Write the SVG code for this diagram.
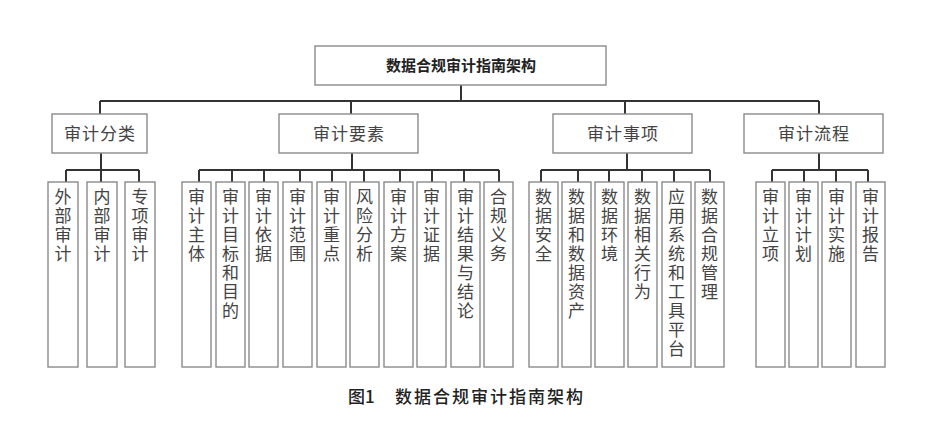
<svg xmlns="http://www.w3.org/2000/svg" width="933" height="424" viewBox="0 0 933 424">
<style>
.box{fill:#fff;stroke:#8a8a8a;stroke-width:1.4}
.conn{fill:none;stroke:#333;stroke-width:2}
.title{font-family:"Noto Sans CJK SC",sans-serif;font-size:15px;font-weight:bold;fill:#222;text-anchor:middle}
.cat{font-family:"Noto Sans CJK SC",sans-serif;font-size:17px;fill:#444;text-anchor:middle;letter-spacing:1px}
.leaf{font-family:"Noto Sans CJK SC",sans-serif;font-size:17px;fill:#444;writing-mode:vertical-rl;text-orientation:upright;letter-spacing:2px}
.cap{font-family:"Noto Sans CJK SC",sans-serif;font-size:17px;font-weight:500;fill:#222}
</style>
<rect width="933" height="424" fill="#fff"/>
<g id="connectors">
<path class="conn" d="M461 85V101M100 101H819M100 101V114M351 101V114M625 101V114M819 101V114"/>
<path class="conn" d="M101 153V170M66 170H139M66 170V182M101 170V182M139 170V182"/>
<path class="conn" d="M352 153V170M199 170H499M199 170V182M232 170V182M264 170V182M300 170V182M332 170V182M364 170V182M400 170V182M432 170V182M464 170V182M499 170V182"/>
<path class="conn" d="M627 153V170M541 170H710M541 170V182M578 170V182M609 170V182M642 170V182M674 170V182M710 170V182"/>
<path class="conn" d="M819 153V170M772 170H868M772 170V182M804 170V182M836 170V182M868 170V182"/>
</g>
<g id="root"><rect class="box" x="315" y="46" width="291" height="39"/><text class="title" x="461" y="71">数据合规审计指南架构</text></g>
<g id="cat1"><rect class="box" x="52" y="114" width="95" height="39"/><text class="cat" x="100" y="140">审计分类</text></g>
<g id="cat2"><rect class="box" x="279" y="114" width="139" height="39"/><text class="cat" x="349" y="140">审计要素</text></g>
<g id="cat3"><rect class="box" x="553" y="114" width="139" height="39"/><text class="cat" x="623" y="140">审计事项</text></g>
<g id="cat4"><rect class="box" x="744" y="114" width="139" height="39"/><text class="cat" x="814" y="140">审计流程</text></g>

<g id="l1"><rect class="box" x="48" y="182" width="30" height="185"/><text class="leaf" x="63" y="188">外部审计</text></g>
<g id="l2"><rect class="box" x="87" y="182" width="30" height="185"/><text class="leaf" x="102" y="188">内部审计</text></g>
<g id="l3"><rect class="box" x="125" y="182" width="30" height="185"/><text class="leaf" x="140" y="188">专项审计</text></g>

<g id="l4"><rect class="box" x="182" y="182" width="29" height="185"/><text class="leaf" x="196.5" y="188">审计主体</text></g>
<g id="l5"><rect class="box" x="216" y="182" width="29" height="185"/><text class="leaf" x="230.5" y="188">审计目标和目的</text></g>
<g id="l6"><rect class="box" x="249" y="182" width="29" height="185"/><text class="leaf" x="263.5" y="188">审计依据</text></g>
<g id="l7"><rect class="box" x="283" y="182" width="29" height="185"/><text class="leaf" x="297.5" y="188">审计范围</text></g>
<g id="l8"><rect class="box" x="317" y="182" width="29" height="185"/><text class="leaf" x="331.5" y="188">审计重点</text></g>
<g id="l9"><rect class="box" x="350" y="182" width="29" height="185"/><text class="leaf" x="364.5" y="188">风险分析</text></g>
<g id="l10"><rect class="box" x="384" y="182" width="29" height="185"/><text class="leaf" x="398.5" y="188">审计方案</text></g>
<g id="l11"><rect class="box" x="417" y="182" width="29" height="185"/><text class="leaf" x="431.5" y="188">审计证据</text></g>
<g id="l12"><rect class="box" x="451" y="182" width="29" height="185"/><text class="leaf" x="465.5" y="188">审计结果与结论</text></g>
<g id="l13"><rect class="box" x="484" y="182" width="29" height="185"/><text class="leaf" x="498.5" y="188">合规义务</text></g>

<g id="l14"><rect class="box" x="529" y="182" width="29" height="185"/><text class="leaf" x="543.5" y="188">数据安全</text></g>
<g id="l15"><rect class="box" x="562" y="182" width="29" height="185"/><text class="leaf" x="576.5" y="188">数据和数据资产</text></g>
<g id="l16"><rect class="box" x="595" y="182" width="29" height="185"/><text class="leaf" x="609.5" y="188">数据环境</text></g>
<g id="l17"><rect class="box" x="628" y="182" width="29" height="185"/><text class="leaf" x="642.5" y="188">数据相关行为</text></g>
<g id="l18"><rect class="box" x="662" y="182" width="29" height="185"/><text class="leaf" x="676.5" y="188">应用系统和工具平台</text></g>
<g id="l19"><rect class="box" x="695" y="182" width="29" height="185"/><text class="leaf" x="709.5" y="188">数据合规管理</text></g>

<g id="l20"><rect class="box" x="756" y="182" width="29" height="185"/><text class="leaf" x="770.5" y="188">审计立项</text></g>
<g id="l21"><rect class="box" x="789" y="182" width="29" height="185"/><text class="leaf" x="803.5" y="188">审计计划</text></g>
<g id="l22"><rect class="box" x="822" y="182" width="29" height="185"/><text class="leaf" x="836.5" y="188">审计实施</text></g>
<g id="l23"><rect class="box" x="856" y="182" width="29" height="185"/><text class="leaf" x="870.5" y="188">审计报告</text></g>

<g id="caption"><text class="cap" x="348" y="403">图1</text><text class="cap" x="395" y="403" letter-spacing="2">数据合规审计指南架构</text></g>
</svg>
